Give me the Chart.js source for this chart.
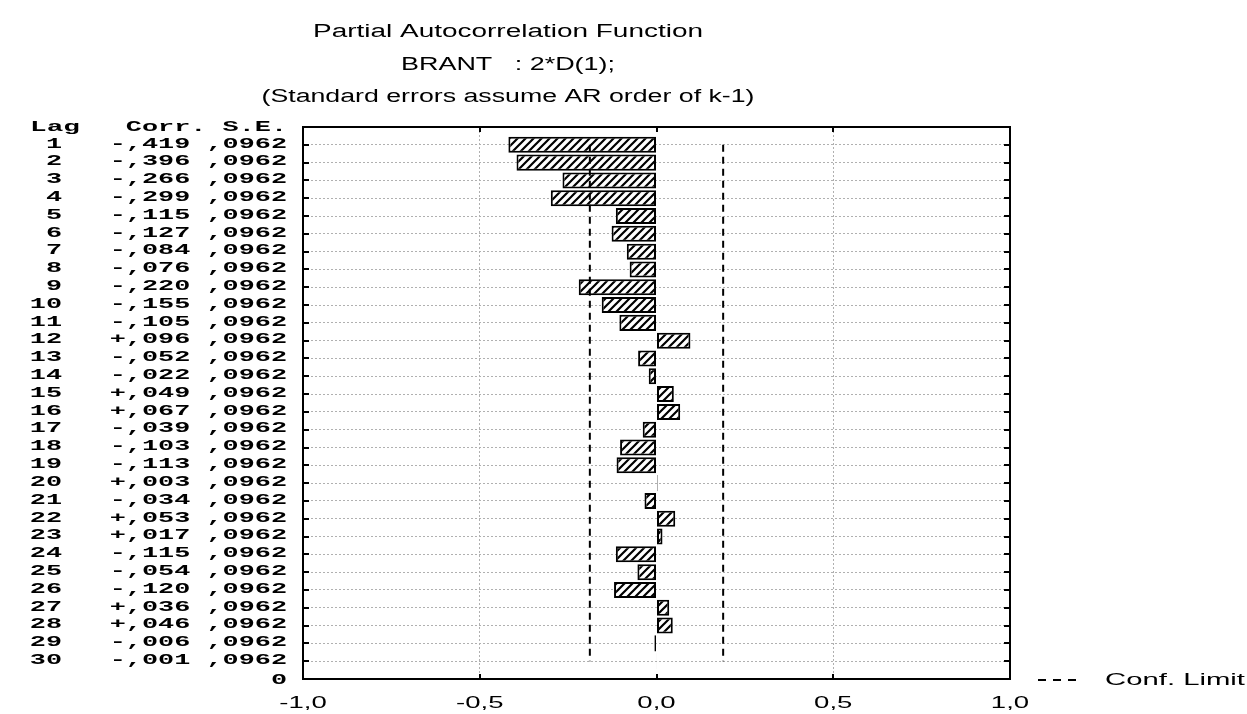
<!DOCTYPE html>
<html>
<head>
<meta charset="utf-8">
<title>Partial Autocorrelation Function</title>
<script src="https://cdn.jsdelivr.net/npm/chart.js@4.4.1/dist/chart.umd.min.js"></script>
<style>
    html, body { margin: 0; padding: 0; background: #ffffff; }
    #pacf { display: block; }
</style>
</head>
<body>
<canvas id="pacf" width="1247" height="714"></canvas>
<script>
// PACF table as printed next to the plot (lag, correlation, standard error)
const LAGS = [1, 2, 3, 4, 5, 6, 7, 8, 9, 10, 11, 12, 13, 14, 15,
              16, 17, 18, 19, 20, 21, 22, 23, 24, 25, 26, 27, 28, 29, 30];
const CORR = [-0.419, -0.396, -0.266, -0.299, -0.115, -0.127, -0.084, -0.076, -0.220, -0.155,
              -0.105,  0.096, -0.052, -0.022,  0.049,  0.067, -0.039, -0.103, -0.113,  0.003,
              -0.034,  0.053,  0.017, -0.115, -0.054, -0.120,  0.036,  0.046, -0.006, -0.001];
const STD_ERR = [0.0962, 0.0962, 0.0962, 0.0962, 0.0962, 0.0962, 0.0962, 0.0962, 0.0962, 0.0962,
                 0.0962, 0.0962, 0.0962, 0.0962, 0.0962, 0.0962, 0.0962, 0.0962, 0.0962, 0.0962,
                 0.0962, 0.0962, 0.0962, 0.0962, 0.0962, 0.0962, 0.0962, 0.0962, 0.0962, 0.0962];

const X_TICKS = [-1.0, -0.5, 0.0, 0.5, 1.0];
const TITLE_LINES = [
    "Partial Autocorrelation Function",
    "BRANT   : 2*D(1);",
    "(Standard errors assume AR order of k-1)"
];
const LEGEND_LABEL = "Conf. Limit";
const Z_95 = 1.96;

// Text styling (reference uses wide bitmap fonts, so text is stretched horizontally)
const SANS = '"Liberation Sans", Arial, sans-serif';
const MONO = '"Liberation Mono", "DejaVu Sans Mono", monospace';
const TITLE_X = 508;
const TITLE_Y = [32, 65, 97];
const TITLE_WIDTHS = [390, 214, 493];

// ---- Helpers ----
function fmtCorr(v) {
    const sign = v < 0 ? "-" : "+";
    return sign + "," + Math.abs(v).toFixed(3).slice(2);
}

function fmtSe(v) {
    return "," + v.toFixed(4).slice(2);
}

function fmtTick(v) {
    return v.toFixed(1).replace(".", ",");
}

// draws text stretched on x only
function stretchText(ctx, text, x, y, sx, align) {
    ctx.save();
    ctx.translate(x, y);
    ctx.scale(sx, 1);
    ctx.textAlign = align;
    ctx.textBaseline = "middle";
    ctx.fillText(text, 0, 0);
    ctx.restore();
}

function fitText(ctx, text, x, y, width, align) {
    const w = ctx.measureText(text).width;
    stretchText(ctx, text, x, y, width / w, align);
}

// diagonal hatch used by the bars
function makeHatch() {
    const n = 8;
    const c = document.createElement("canvas");
    c.width = n;
    c.height = n;
    const g = c.getContext("2d");
    g.fillStyle = "#ffffff";
    g.fillRect(0, 0, n, n);
    g.strokeStyle = "#000000";
    g.lineWidth = 2.2;
    g.beginPath();
    g.moveTo(0, n);  g.lineTo(n, 0);
    g.moveTo(-2, 2); g.lineTo(2, -2);
    g.moveTo(n - 2, n + 2); g.lineTo(n + 2, n - 2);
    g.stroke();
    return g.createPattern(c, "repeat");
}

// ---- Frame, inner ticks, table and titles ----
const decorPlugin = {
    id: "pacfDecor",
    afterDraw(chart) {
        const { ctx, chartArea: a, scales: { x, y } } = chart;
        ctx.save();

        // plot frame
        ctx.strokeStyle = "#000";
        ctx.lineWidth = 2;
        ctx.strokeRect(a.left, a.top, a.right - a.left, a.bottom - a.top);

        // tick marks point inward
        ctx.beginPath();
        LAGS.forEach((lag) => {
            const py = Math.round(y.getPixelForValue(lag));
            ctx.moveTo(a.left, py);  ctx.lineTo(a.left + 6, py);
            ctx.moveTo(a.right, py); ctx.lineTo(a.right - 6, py);
        });
        X_TICKS.slice(1, -1).forEach((v) => {
            const px = Math.round(x.getPixelForValue(v));
            ctx.moveTo(px, a.top);    ctx.lineTo(px, a.top + 5);
            ctx.moveTo(px, a.bottom); ctx.lineTo(px, a.bottom - 5);
        });
        ctx.stroke();

        ctx.fillStyle = "#000";

        // lag table on the left
        ctx.font = "bold 15px " + MONO;
        stretchText(ctx, "Lag", 80, a.top, 1.85, "right");
        stretchText(ctx, "Corr. S.E.", 287, a.top, 1.79, "right");
        LAGS.forEach((lag, i) => {
            const py = y.getPixelForValue(lag) - 1;
            stretchText(ctx, String(lag), 62, py, 1.79, "right");
            stretchText(ctx, fmtCorr(CORR[i]) + " " + fmtSe(STD_ERR[i]), 287, py, 1.79, "right");
        });
        stretchText(ctx, "0", 287, a.bottom + 1, 1.79, "right");

        // x axis labels
        ctx.font = "17px " + SANS;
        X_TICKS.forEach((v) => {
            stretchText(ctx, fmtTick(v), x.getPixelForValue(v), 703, 1.62, "center");
        });

        // titles
        ctx.font = "18px " + SANS;
        TITLE_LINES.forEach((t, i) => {
            fitText(ctx, t, TITLE_X, TITLE_Y[i], TITLE_WIDTHS[i], "center");
        });

        // legend
        ctx.font = "17px " + SANS;
        ctx.lineWidth = 2;
        ctx.setLineDash([8, 7]);
        ctx.beginPath();
        ctx.moveTo(1038, 680);
        ctx.lineTo(1082, 680);
        ctx.stroke();
        ctx.setLineDash([]);
        fitText(ctx, LEGEND_LABEL, 1105, 680, 140, "left");

        ctx.restore();
    }
};

const hatch = makeHatch();

new Chart(document.getElementById("pacf").getContext("2d"), {
    data: {
        datasets: [
            {
                type: "bar",
                label: "PACF",
                data: LAGS.map((lag, i) => ({ x: CORR[i], y: lag })),
                backgroundColor: hatch,
                borderColor: "#000",
                borderWidth: 2,
                borderSkipped: false,
                barPercentage: 1,
                categoryPercentage: 0.9,
                order: 2
            },
            {
                type: "line",
                label: "Conf. Limit",
                data: LAGS.map((lag, i) => ({ x: Z_95 * STD_ERR[i], y: lag })),
                borderColor: "#000",
                borderWidth: 2,
                borderDash: [7, 5],
                pointRadius: 0,
                fill: false,
                order: 1
            },
            {
                type: "line",
                label: "Conf. Limit (lower)",
                data: LAGS.map((lag, i) => ({ x: -Z_95 * STD_ERR[i], y: lag })),
                borderColor: "#000",
                borderWidth: 2,
                borderDash: [7, 5],
                pointRadius: 0,
                fill: false,
                order: 1
            }
        ]
    },
    options: {
        indexAxis: "y",
        responsive: false,
        animation: false,
        devicePixelRatio: 1,
        layout: { padding: { left: 303, right: 237, top: 127, bottom: 35 } },
        plugins: {
            legend: { display: false },
            title: { display: false },
            tooltip: { enabled: false }
        },
        scales: {
            x: {
                type: "linear",
                min: -1,
                max: 1,
                offset: false,
                afterBuildTicks: (s) => { s.ticks = X_TICKS.map((v) => ({ value: v })); },
                ticks: { display: false },
                grid: {
                    offset: false,
                    color: (c) => Math.abs(Math.abs(c.tick.value) - 0.5) < 1e-9 ? "#b0b0b0" : "rgba(0,0,0,0)",
                    lineWidth: 1,
                    drawTicks: false
                },
                border: { display: false, dash: [2, 2] }
            },
            y: {
                type: "linear",
                reverse: true,
                min: 0,
                max: 31,
                offset: false,
                afterBuildTicks: (s) => { s.ticks = LAGS.map((v) => ({ value: v })); },
                ticks: { display: false },
                grid: { offset: false, color: "#b0b0b0", lineWidth: 1, drawTicks: false },
                border: { display: false, dash: [2, 2] }
            }
        }
    },
    plugins: [decorPlugin]
});
</script>
</body>
</html>
